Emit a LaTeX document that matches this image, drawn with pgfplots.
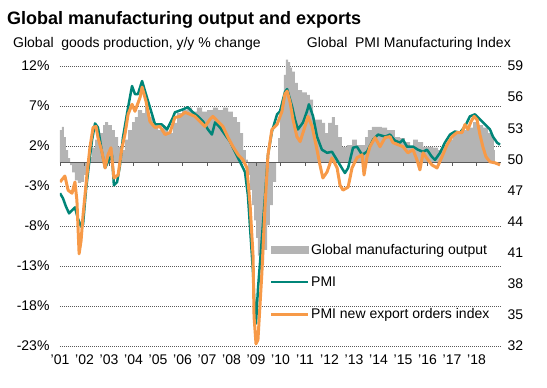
\documentclass[border=0pt]{standalone}
\usepackage{pgfplots}
\pgfplotsset{compat=1.18}
\usepackage{fontspec}
\setmainfont{Liberation Sans}
\definecolor{pmiteal}{RGB}{0,133,120}
\definecolor{exporange}{RGB}{247,154,72}
\definecolor{outgrey}{RGB}{180,180,180}
\definecolor{gridc}{RGB}{90,90,90}

% t = years since 2000 (1.00 = Jan 2001)
\pgfplotstableread{
t v
1.00 4.0
1.08 4.4
1.16 3.1
1.24 1.5
1.33 0.5
1.41 -0.4
1.49 -1.3
1.61 -2.3
1.73 -2.6
1.86 -2.5
1.98 -1.6
2.10 -0.5
2.18 0.6
2.31 1.8
2.43 2.8
2.63 3.6
2.76 4.6
2.84 5.0
2.96 4.6
3.12 4.0
3.24 3.1
3.37 1.9
3.53 1.5
3.65 2.8
3.78 4.0
3.94 5.0
4.06 5.6
4.18 6.5
4.35 6.1
4.47 6.9
4.59 5.6
4.80 4.4
5.00 4.0
5.20 4.4
5.41 3.6
5.61 4.9
5.78 6.1
5.98 6.5
6.18 6.8
6.39 6.3
6.59 6.8
6.80 6.3
7.00 6.5
7.24 6.8
7.45 6.5
7.65 6.8
7.86 6.3
8.06 5.6
8.22 5.0
8.35 3.6
8.47 1.5
8.59 0.3
8.67 -1.6
8.76 -3.5
8.84 -5.4
8.92 -7.3
9.00 -9.5
9.08 -11.7
9.16 -12.9
9.24 -12.9
9.33 -11.0
9.45 -7.9
9.57 -5.4
9.69 -2.5
9.82 0.0
9.90 3.0
9.98 5.9
10.06 7.8
10.14 10.9
10.22 12.8
10.31 12.5
10.39 11.8
10.47 11.3
10.59 9.9
10.71 9.0
10.88 8.7
11.08 8.4
11.20 7.8
11.33 5.3
11.53 5.3
11.69 4.9
11.82 3.6
11.94 4.9
12.10 5.6
12.22 4.6
12.35 3.1
12.51 1.9
12.71 2.1
12.92 2.8
13.12 2.1
13.33 2.1
13.45 3.1
13.57 4.0
13.73 4.4
13.94 4.4
14.14 4.3
14.35 4.0
14.55 4.0
14.67 3.1
14.88 3.0
15.08 2.5
15.29 1.9
15.41 2.8
15.61 2.5
15.82 1.9
16.02 1.9
16.22 1.8
16.43 1.5
16.63 2.1
16.84 2.8
17.04 3.8
17.33 4.0
17.61 4.3
17.86 5.0
18.06 4.6
18.27 4.3
18.47 3.6
18.63 3.1
18.71 1.5
18.75 1.5
}\outputdata

\pgfplotstableread{
t p
1.00 46.73
1.12 46.25
1.24 45.47
1.37 44.79
1.49 45.08
1.61 45.37
1.73 44.30
1.86 43.52
1.94 43.71
2.06 47.03
2.18 49.46
2.31 51.90
2.43 53.46
2.55 53.07
2.71 50.73
2.84 49.17
2.96 49.76
3.12 50.44
3.20 47.51
3.33 47.81
3.45 49.46
3.57 52.10
3.78 55.02
3.94 57.07
4.06 56.29
4.18 56.29
4.35 57.55
4.47 56.58
4.67 55.02
4.88 53.36
5.16 53.36
5.37 52.88
5.61 54.04
5.69 54.53
6.02 54.82
6.22 55.02
6.43 54.53
6.63 54.14
6.84 53.65
7.04 52.88
7.20 52.39
7.33 53.56
7.53 53.07
7.73 52.39
7.94 51.71
8.14 50.73
8.35 49.76
8.55 48.78
8.67 46.54
8.76 43.32
8.88 39.04
8.96 34.84
9.00 34.16
9.08 37.48
9.24 42.35
9.37 46.54
9.49 50.44
9.65 52.68
9.86 54.34
9.98 54.63
10.18 56.48
10.27 56.77
10.47 55.12
10.59 53.85
10.71 52.88
10.92 53.56
11.08 54.63
11.16 55.31
11.33 54.14
11.49 52.19
11.69 50.93
11.90 50.63
12.10 50.73
12.35 49.76
12.55 48.98
12.63 48.68
12.76 49.17
12.96 51.12
13.12 51.22
13.33 50.44
13.53 50.73
13.78 51.90
13.98 52.39
14.27 52.19
14.47 52.39
14.67 51.80
14.88 51.61
15.00 51.90
15.16 51.22
15.41 51.22
15.61 50.93
15.82 50.73
15.98 50.93
16.18 50.24
16.31 49.95
16.51 50.63
16.71 51.61
16.92 52.39
17.12 52.68
17.33 52.58
17.53 53.17
17.73 54.14
17.94 54.34
18.14 53.85
18.35 53.36
18.55 52.88
18.67 52.19
18.84 51.61
18.96 51.41
}\pmidata

\pgfplotstableread{
t e
1.00 47.81
1.20 48.39
1.33 47.03
1.49 46.73
1.61 47.81
1.69 46.05
1.78 40.89
1.86 42.15
1.94 44.59
2.10 48.49
2.22 51.12
2.35 53.07
2.47 53.17
2.55 52.10
2.71 50.73
2.84 49.17
2.96 50.44
3.08 51.12
3.20 48.20
3.37 48.49
3.53 51.12
3.65 52.39
3.78 54.34
3.94 55.31
4.06 54.63
4.27 55.99
4.35 56.97
4.51 55.60
4.67 53.65
4.88 53.07
5.08 53.17
5.29 52.39
5.49 52.58
5.69 54.04
5.90 54.14
6.10 54.53
6.31 54.34
6.51 54.14
6.71 53.65
6.92 53.17
7.12 53.85
7.24 54.14
7.45 53.65
7.65 53.17
7.86 52.10
8.06 51.22
8.27 50.44
8.47 49.95
8.63 49.17
8.76 45.57
8.88 40.69
8.92 34.84
9.00 32.21
9.08 32.60
9.24 39.04
9.37 45.57
9.49 50.44
9.65 52.88
9.86 53.36
10.06 54.63
10.18 56.29
10.27 56.58
10.39 55.51
10.51 53.85
10.67 52.19
10.80 51.71
11.00 53.17
11.12 54.14
11.29 53.17
11.49 50.93
11.61 49.46
11.73 48.20
11.90 48.78
12.10 50.15
12.31 49.17
12.43 47.51
12.55 47.03
12.76 47.32
12.92 49.17
13.12 50.15
13.33 50.44
13.41 48.49
13.53 50.24
13.65 51.22
13.86 52.10
14.06 51.22
14.27 52.10
14.47 52.19
14.59 51.61
14.80 51.41
15.00 51.22
15.20 50.63
15.41 50.93
15.57 49.95
15.69 48.98
15.82 50.63
16.02 49.95
16.18 49.46
16.39 49.17
16.59 50.24
16.80 51.41
17.00 52.19
17.20 52.58
17.41 52.58
17.53 53.36
17.65 52.88
17.78 53.65
17.90 54.14
18.02 53.85
18.14 52.39
18.27 51.12
18.39 50.24
18.55 49.76
18.76 49.66
18.96 49.46
}\expdata

\begin{document}
\begin{tikzpicture}
\useasboundingbox (-60pt,-42pt) rectangle (487pt,346pt);
\begin{axis}[
  at={(0pt,0pt)}, anchor=south west,
  scale only axis, width=441pt, height=280pt,
  xmin=1, xmax=19, ymin=-23, ymax=12,
  clip=false,
  xtick={1,...,18},
  xticklabels={'01,'02,'03,'04,'05,'06,'07,'08,'09,'10,'11,'12,'13,'14,'15,'16,'17,'18},
  ytick={-23,-18,-13,-8,-3,2,7,12},
  ymajorgrids,
  grid style={gridc, dash pattern=on 1pt off 1pt, line width=0.5pt},
  axis line style={draw=none},
  tick style={draw=none},
  tick label style={font=\fontsize{14}{16}\selectfont},
  /pgf/number format/assume math mode=true,
  yticklabel={\pgfmathprintnumber{\tick}\%},
  yticklabel style={xshift=-7pt},
  xticklabel style={yshift=-5pt},
]
\addplot[const plot, fill=outgrey, draw=none] table[x=t, y=v] {\outputdata} \closedcycle;
\draw[gridc, line width=0.9pt] (axis cs:1,0) -- (axis cs:19,0);
\pgfplotsinvokeforeach{1,...,18}{\draw[gridc, line width=0.8pt] (axis cs:#1,0) -- (axis cs:#1,-0.5);}
\end{axis}
\begin{axis}[
  at={(0pt,0pt)}, anchor=south west,
  scale only axis, width=441pt, height=280pt,
  xmin=1, xmax=19, ymin=32, ymax=59,
  axis y line*=right, axis x line=none,
  ytick={32,35,...,59},
  axis line style={draw=none},
  tick style={draw=none},
  tick label style={font=\fontsize{14}{16}\selectfont},
  /pgf/number format/assume math mode=true,
  yticklabel style={xshift=3pt},
  legend style={at={(axis cs:9.55,42.0)}, anchor=north west, draw=none, fill=none,
    font=\fontsize{14}{16}\selectfont, row sep=18pt, inner sep=0pt,
    nodes={inner sep=1.5pt}},
  legend cell align=left,
]
\addlegendimage{legend image code/.code={\fill[outgrey] (0pt,-3.5pt) rectangle (37pt,3.5pt);}}
\addlegendentry{Global manufacturing output}
\addplot[pmiteal, line width=2.5pt, line join=round,
  legend image code/.code={\draw[pmiteal, line width=2.5pt] (0pt,0pt) -- (37pt,0pt);}]
  table[x=t, y=p] {\pmidata};
\addlegendentry{PMI}
\addplot[exporange, line width=3pt, line join=round,
  legend image code/.code={\draw[exporange, line width=3pt] (0pt,0pt) -- (37pt,0pt);}]
  table[x=t, y=e] {\expdata};
\addlegendentry{PMI new export orders index}
\end{axis}
\node[anchor=base west, font=\fontsize{18}{21}\selectfont\bfseries, inner sep=0pt] at (-53pt,321pt) {Global manufacturing output and exports};
\node[anchor=base west, font=\fontsize{14}{16}\selectfont, inner sep=0pt] at (-47pt,298pt) {Global\ \ goods production, y/y \% change};
\node[anchor=base east, font=\fontsize{14}{16}\selectfont, inner sep=0pt] at (451pt,298pt) {Global\ \ PMI Manufacturing Index};
\end{tikzpicture}
\end{document}
